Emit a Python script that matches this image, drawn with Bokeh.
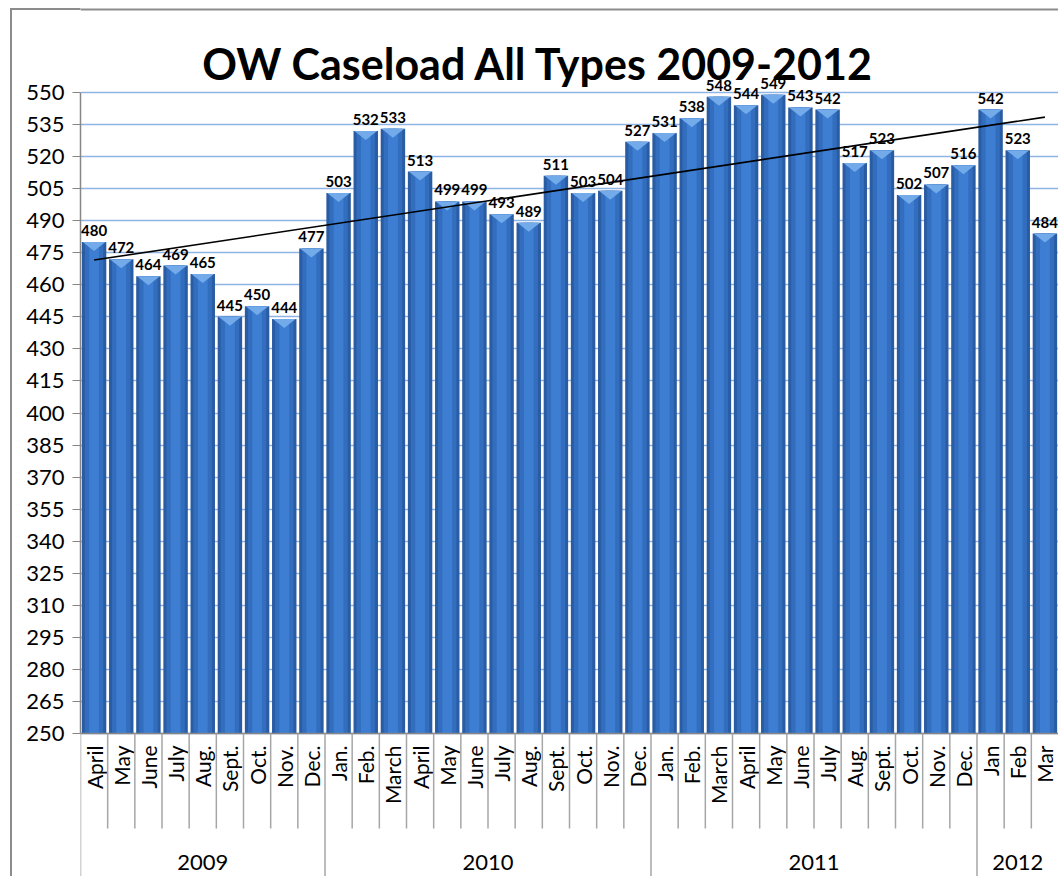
import numpy as np
from bokeh.plotting import figure
from bokeh.models import FactorRange, Range1d, FixedTicker, ColumnDataSource
from bokeh.core.properties import value
from bokeh.embed import file_html
from bokeh.resources import INLINE

# ---------------- data ----------------
years = ["2009"] * 9 + ["2010"] * 12 + ["2011"] * 12 + ["2012"] * 3
months = ["April", "May", "June", "July", "Aug.", "Sept.", "Oct.", "Nov.", "Dec.",
          "Jan.", "Feb.", "March", "April", "May", "June", "July", "Aug.", "Sept.", "Oct.", "Nov.", "Dec.",
          "Jan.", "Feb.", "March", "April", "May", "June", "July", "Aug.", "Sept.", "Oct.", "Nov.", "Dec.",
          "Jan", "Feb", "Mar"]
caseload = [480, 472, 464, 469, 465, 445, 450, 444, 477,
            503, 532, 533, 513, 499, 499, 493, 489, 511, 503, 504, 527,
            531, 538, 548, 544, 549, 543, 542, 517, 523, 502, 507, 516,
            542, 523, 484]
y_ticks = [250, 265, 280, 295, 310, 325, 340, 355, 370, 385, 400, 415, 430, 445,
           460, 475, 490, 505, 520, 535, 550]
title_text = "OW Caseload All Types 2009-2012"

FONT = "Lato"
n = len(caseload)
factors = list(zip(years, months))
y0, y1 = y_ticks[0], y_ticks[-1]

# pixel geometry: value axis spans 641 px between 250 and 550
W, H = 1058, 876
frame_left = 80
px_per_unit = 641.0 / (y1 - y0)
top_px, bottom_px = 92, 733
y_top = y1 + top_px / px_per_unit
y_bot = y0 - (H - bottom_px) / px_per_unit


def below(px):
    """data value that lies px pixels below the value-axis baseline"""
    return y0 - px / px_per_unit


x_range = FactorRange(factors=factors, group_padding=0, factor_padding=0, range_padding=0)
p = figure(x_range=x_range, y_range=Range1d(y_bot, y_top),
           width=W, height=H, output_backend="svg", toolbar_location=None,
           x_axis_location=None,
           min_border_left=frame_left, min_border_top=0, min_border_bottom=0, min_border_right=0)
p.background_fill_color = "white"
p.border_fill_color = None
p.outline_line_color = None
# chart-area border in the left margin (outside the plotting frame)
p.styles = {
    "background-color": "white",
    "background-image": ("linear-gradient(to right, transparent 10px, #8c8c8c 10px, "
                         "#8c8c8c 12px, transparent 12px), "
                         "linear-gradient(to bottom, transparent 8px, #8c8c8c 8px, "
                         "#8c8c8c 10px, transparent 10px)"),
    "background-size": "100% 100%, 100% 100%",
    "background-position": "0px 8px, 10px 0px",
    "background-repeat": "no-repeat, no-repeat",
}

# chart-area border along the top, inside the frame
p.segment(x0=[0], y0=[y_top - 9 / px_per_unit], x1=[n], y1=[y_top - 9 / px_per_unit],
          line_color="#8c8c8c", line_width=2)

# grid
p.xgrid.grid_line_color = None
p.ygrid.grid_line_color = "#8eb4e3"
p.ygrid.grid_line_width = 1.5

src = ColumnDataSource(dict(x=factors, top=caseload, label=[str(v) for v in caseload],
                            month=months))

# bars with simple cylinder shading
p.vbar(x="x", top="top", bottom=y0, width=0.9, fill_color="#2a5ca3",
       line_color=None, source=src)
p.vbar(x="x", top="top", bottom=y0, width=0.68, fill_color="#336dbd",
       line_color=None, source=src)
p.vbar(x="x", top="top", bottom=y0, width=0.36, fill_color="#3d7ed3",
       line_color=None, source=src)

# top chevrons
cx = [i + 0.5 for i in range(n)]
chev_h = 9 / px_per_unit
p.patches([[c - 0.42, c + 0.42, c] for c in cx], [[v, v, v - chev_h] for v in caseload],
          fill_color="#72aaea", line_color=None)

# linear trend line
idx = np.arange(n)
fit = np.polyfit(idx, caseload, 1)
p.line([cx[0], cx[-1]], list(np.polyval(fit, [0, n - 1])), line_color="black", line_width=1.6)

# data labels
p.text(x="x", y="top", text="label", source=src, text_align="center",
       text_baseline="bottom", y_offset=-6, text_font=value(FONT),
       text_font_size=value("15px"), text_font_style="bold", text_color="black")

# title
p.text(x=[(538 - frame_left) / ((W - frame_left) / n)], y=[y1 + (92 - 63) / px_per_unit],
       text=[title_text], text_align="center", text_baseline="alphabetic",
       text_font=value(FONT), text_font_size=value("43px"), text_font_style="bold",
       text_color="black")

# value axis
ya = p.yaxis[0]
ya.bounds = (y0, y1)
ya.ticker = FixedTicker(ticks=y_ticks)
ya.minor_tick_line_color = None
ya.major_tick_out = 8
ya.major_tick_in = 0
ya.major_tick_line_color = "#868686"
ya.axis_line_color = "#868686"
ya.axis_line_width = 1.5
ya.major_label_text_font = FONT
ya.major_label_text_font_size = "22px"
ya.major_label_text_color = "black"
ya.major_label_standoff = 8

# category axis line
p.segment(x0=[0], y0=[y0], x1=[n], y1=[y0], line_color="#868686", line_width=1.5)

# month labels
p.text(x="x", y=below(12), text="month", source=src,
       angle=np.pi / 2, text_align="right", text_baseline="middle",
       text_font=value(FONT), text_font_size=value("21px"), text_color="black")

# separators (the right-most boundary falls outside the cropped picture)
year_starts = [i for i in range(n) if i == 0 or years[i] != years[i - 1]] + [n]
sep_x = list(range(n))
sep_end = [y_bot if b in year_starts else below(95) for b in sep_x]
p.segment(x0=sep_x, y0=[y0] * len(sep_x), x1=sep_x, y1=sep_end,
          line_color="#a6a6a6", line_width=1.5)

# year labels
year_names = [years[s] for s in year_starts[:-1]]
year_mid = [(a + b) / 2 for a, b in zip(year_starts[:-1], year_starts[1:])]
p.text(x=year_mid, y=[below(129)] * len(year_mid), text=year_names,
       text_align="center", text_baseline="middle", text_font=value(FONT),
       text_font_size=value("22px"), text_color="black")

open("out.html", "w").write(file_html(p, INLINE))
